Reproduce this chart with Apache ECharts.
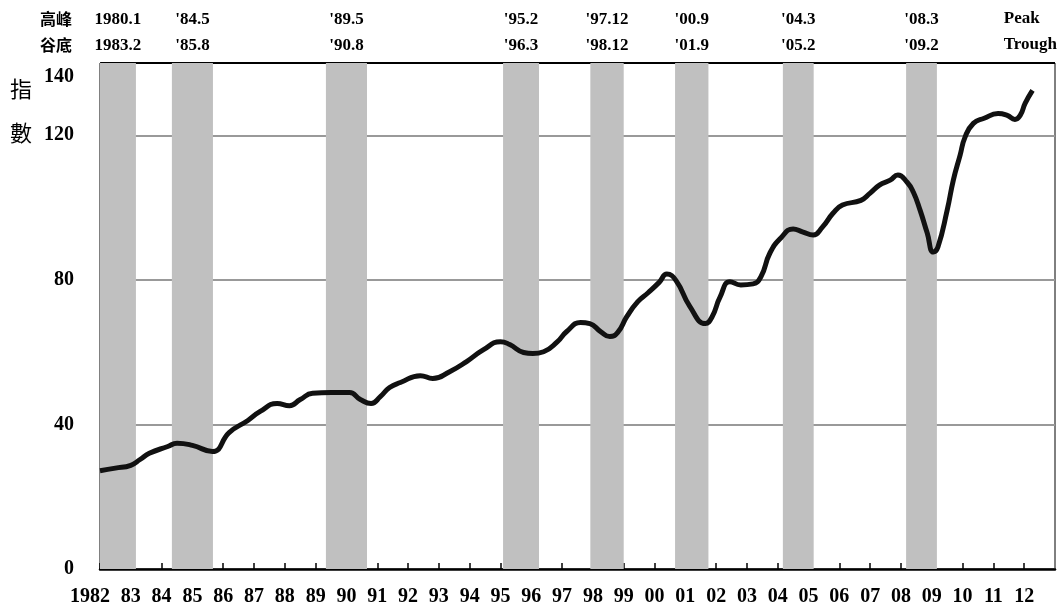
<!DOCTYPE html>
<html>
<head>
<meta charset="utf-8">
<script src="https://cdn.jsdelivr.net/npm/echarts@6/dist/echarts.min.js"></script>
<style>
  html, body { margin: 0; padding: 0; background: #fff; }
  #chart { width: 1060px; height: 607px; }
</style>
</head>
<body>
<div id="chart"></div>
<script>
// index values (year as decimal, value)
const years = [1982.0, 1982.5, 1983.0, 1983.3, 1983.6, 1984.2, 1984.5, 1985.0, 1985.65,
  1986.2, 1986.8, 1987.2, 1987.75, 1988.15, 1988.5, 1988.9, 1989.5, 1990.1, 1990.45, 1990.8,
  1991.1, 1991.4, 1991.75, 1992.4, 1992.8, 1993.35, 1993.9, 1994.45, 1995.0, 1995.3, 1995.75,
  1996.05, 1996.4, 1996.85, 1997.15, 1997.6, 1997.9, 1998.25, 1998.55, 1998.8, 1999.1, 1999.45,
  1999.8, 2000.15, 2000.4, 2000.7, 2001.15, 2001.65, 2001.87, 2002.13, 2002.45, 2002.8, 2003.2,
  2003.45, 2003.75, 2004.1, 2004.5, 2004.8, 2005.15, 2005.45, 2005.8, 2006.1, 2006.7, 2007.0,
  2007.3, 2007.65, 2007.9, 2008.2, 2008.4, 2008.62, 2008.85, 2009.05, 2009.2, 2009.5, 2009.7,
  2009.92, 2010.08, 2010.35, 2010.7, 2011.15, 2011.45, 2011.7, 2011.87, 2012.03, 2012.27];
const values = [27.2, 27.9, 28.7, 30.3, 32.0, 33.9, 34.8, 34.2, 32.5,
  37.8, 41.1, 43.6, 45.8, 45.2, 46.9, 48.6, 48.8, 48.8, 46.9, 45.8,
  47.7, 50.2, 51.6, 53.5, 52.7, 54.6, 57.4, 60.7, 62.9, 62.1, 59.9,
  59.6, 60.1, 62.9, 65.7, 68.2, 67.9, 65.7, 64.3, 65.4, 69.8, 73.9,
  76.5, 79.3, 81.6, 79.8, 72.6, 67.9, 69.8, 75.3, 79.5, 78.6, 78.9,
  80.8, 87.5, 91.6, 94.1, 93.3, 92.4, 94.6, 98.5, 100.7, 102.0, 104.0,
  106.2, 107.6, 109.0, 107.0, 104.3, 99.3, 93.0, 87.7, 89.1, 99.3, 107.6,
  114.5, 119.5, 123.3, 124.7, 126.0, 125.5, 124.4, 125.5, 128.8, 132.4];

// business cycle peaks / troughs
const peaks = ['1980.1', "'84.5", "'89.5", "'95.2", "'97.12", "'00.9", "'04.3", "'08.3"];
const troughs = ['1983.2', "'85.8", "'90.8", "'96.3", "'98.12", "'01.9", "'05.2", "'09.2"];
const peakDates = [[1980, 1], [1984, 5], [1989, 5], [1995, 2], [1997, 12], [2000, 9], [2004, 3], [2008, 3]];
const troughDates = [[1983, 2], [1985, 8], [1990, 8], [1996, 3], [1998, 12], [2001, 9], [2005, 2], [2009, 2]];

const yTicks = [0, 40, 80, 120, 140];

const X_MIN = 1982, X_MAX = 2013;
const serif = '"Liberation Serif", "Times New Roman", serif';
const cjk = '"Noto Sans CJK TC", "Noto Sans CJK SC", sans-serif';

const lineData = years.map((y, i) => [y, values[i]]);

const areas = peakDates.map((p, i) => {
  const t = troughDates[i];
  const start = Math.max(X_MIN, p[0] + (p[1] - 1) / 12);
  const end = t[0] + t[1] / 12;
  return [{ xAxis: start, name: peaks[i] + '\n' + troughs[i] }, { xAxis: end }];
});

const chart = echarts.init(document.getElementById('chart'));
chart.setOption({
  animation: false,
  grid: {
    left: 100, right: 5, top: 63, bottom: 37,
    show: true, borderColor: '#000', borderWidth: 1, backgroundColor: 'transparent'
  },
  xAxis: {
    type: 'value',
    min: X_MIN, max: X_MAX, interval: 1,
    axisLine: { lineStyle: { color: '#000', width: 2.5 } },
    axisTick: { inside: true, length: 6, lineStyle: { color: '#000', width: 1.5 } },
    splitLine: { show: false },
    axisLabel: {
      margin: 18,
      color: '#000',
      fontFamily: serif, fontWeight: 'bold', fontSize: 20,
      showMinLabel: true, showMaxLabel: false,
      formatter: v => {
        if (v === 1982) return '{a|1982}';
        if (v === 2013) return '';
        return String(v).slice(2);
      },
      rich: {
        a: { fontFamily: serif, fontWeight: 'bold', fontSize: 20, color: '#000', padding: [0, 20, 0, 0] }
      }
    }
  },
  yAxis: {
    type: 'value',
    min: 0, max: 140, interval: 40,
    axisLine: { show: true, lineStyle: { color: '#444', width: 1 } },
    axisTick: { show: true, inside: true, length: 7, lineStyle: { color: '#000' } },
    splitLine: { show: true, lineStyle: { color: ['#999', '#999', '#999', '#999', '#000'], width: 2 } },
    axisLabel: {
      margin: 26,
      color: '#000',
      fontFamily: serif, fontWeight: 'bold', fontSize: 20,
      formatter: v => (v === yTicks[yTicks.length - 1] ? '{d|' + v + '}' : String(v)),
      rich: {
        d: { fontFamily: serif, fontWeight: 'bold', fontSize: 20, color: '#000', padding: [28, 0, 0, 0] }
      }
    }
  },
  graphic: [
    { type: 'text', left: 40, top: 6, style: { text: '高峰\n谷底', font: 'bold 16px ' + cjk, lineHeight: 26, fill: '#000' } },
    { type: 'text', right: 3, top: 6, style: { text: 'Peak\nTrough', font: 'bold 17px ' + serif, lineHeight: 26, fill: '#000', align: 'right' } },
    { type: 'text', left: 10, top: 67, style: { text: '指\n數', font: '22px ' + cjk, lineHeight: 44, fill: '#000' } }
  ],
  series: [{
    type: 'line',
    data: lineData,
    smooth: 0.5,
    showSymbol: false,
    lineStyle: { color: '#111', width: 5 },
    z: 5,
    markArea: {
      silent: true,
      itemStyle: { color: '#c0c0c0' },
      label: {
        show: true, position: 'top', distance: 4,
        formatter: p => p.name,
        color: '#000', fontFamily: serif, fontWeight: 'bold', fontSize: 17, lineHeight: 26
      },
      data: areas
    }
  }]
});
</script>
</body>
</html>
